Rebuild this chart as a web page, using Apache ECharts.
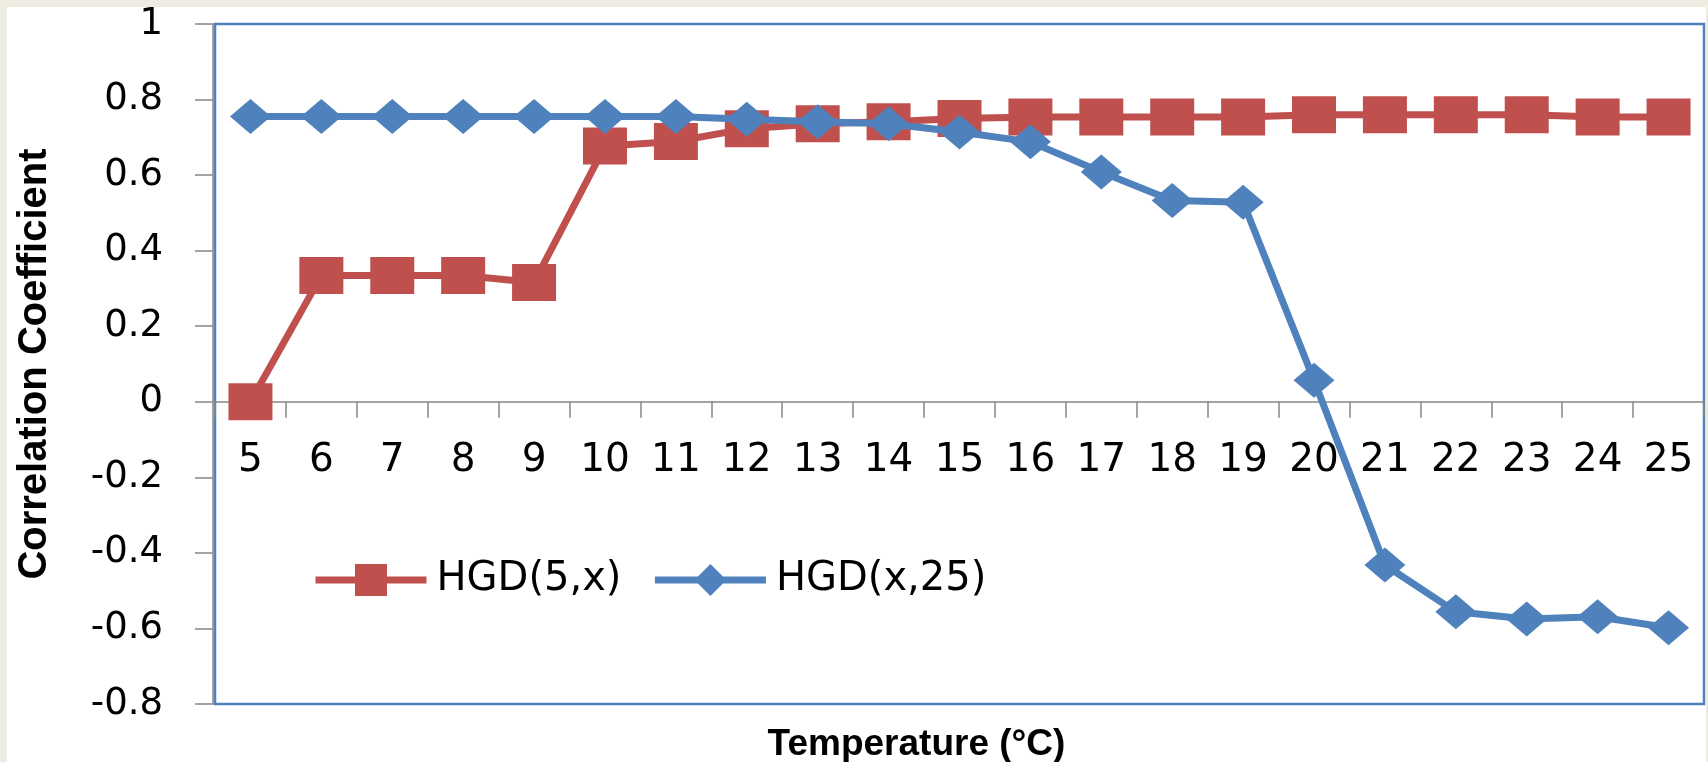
<!DOCTYPE html>
<html>
<head>
<meta charset="utf-8">
<script src="https://cdn.jsdelivr.net/npm/echarts@6/dist/echarts.min.js"></script>
<style>
  html, body { margin: 0; padding: 0; background: #EEEBE0; width: 1708px; height: 762px; overflow: hidden; }
  #chart { position: absolute; left: 7px; top: 7px; width: 1699px; height: 755px; background: #ffffff; }
</style>
</head>
<body>
<div id="chart"></div>
<script>
// Temperature steps (°C) along the category axis
const temperatures = ['5','6','7','8','9','10','11','12','13','14','15','16','17','18','19','20','21','22','23','24','25'];

// Correlation of the HGD profile at 5 °C with every other temperature
const hgd5x = [0.00, 0.334, 0.334, 0.334, 0.316, 0.677, 0.689, 0.723, 0.736, 0.741, 0.750,
               0.754, 0.754, 0.754, 0.754, 0.760, 0.760, 0.760, 0.760, 0.754, 0.754];

// Correlation of every temperature with the HGD profile at 25 °C
const hgdx25 = [0.755, 0.755, 0.755, 0.755, 0.755, 0.755, 0.755, 0.748, 0.741, 0.736, 0.714,
                0.688, 0.608, 0.533, 0.528, 0.057, -0.432, -0.556, -0.575, -0.569, -0.598];

const seriesNames = ['HGD(5,x)', 'HGD(x,25)'];
const yTicks = { min: -0.8, max: 1, step: 0.2 };

const RED = '#C0504D';
const BLUE = '#4F81BD';
const AXIS_GRAY = '#868686';

const chart = echarts.init(document.getElementById('chart'), null, { renderer: 'canvas' });

chart.setOption({
  animation: false,
  backgroundColor: '#ffffff',
  grid: {
    left: 208, right: 2, top: 17, bottom: 58,
    outerBoundsMode: 'none',
    containLabel: false,
    show: true,
    borderColor: BLUE,
    borderWidth: 2.5,
    backgroundColor: '#ffffff'
  },
  legend: {
    left: 305, top: 553,
    padding: 0,
    itemWidth: 111,
    itemHeight: 40,
    itemGap: 30,
    lineStyle: { width: 7 },
    textStyle: {
      fontFamily: 'DejaVu Sans', fontSize: 40, color: '#000',
      padding: [0, 0, 0, 5]
    },
    data: seriesNames
  },
  xAxis: {
    type: 'category',
    data: temperatures,
    boundaryGap: true,
    position: 'bottom',
    axisLine: { onZero: false, lineStyle: { color: AXIS_GRAY, width: 1.5 } },
    axisTick: { show: true, length: 16, inside: false, lineStyle: { color: AXIS_GRAY, width: 1.5 } },
    axisLabel: {
      interval: 0, margin: 40,
      fontFamily: 'DejaVu Sans', fontSize: 39, color: '#000'
    },
    splitLine: { show: false },
    name: 'Temperature (°C)',
    nameLocation: 'middle',
    nameGap: 325,
    nameMoveOverlap: false,
    nameTextStyle: {
      fontFamily: 'Liberation Sans', fontWeight: 'bold', fontSize: 37, color: '#000',
      padding: [0, 86, 0, 0]
    }
  },
  yAxis: {
    type: 'value',
    min: yTicks.min, max: yTicks.max, interval: yTicks.step,
    offset: 2,
    axisLine: { show: true, lineStyle: { color: AXIS_GRAY, width: 1.5 } },
    axisTick: { show: true, length: 18, inside: false, lineStyle: { color: AXIS_GRAY, width: 1.5 } },
    axisLabel: {
      margin: 50,
      fontFamily: 'DejaVu Sans', fontSize: 37, color: '#000',
      formatter: v => String(Math.round(v * 10) / 10)
    },
    splitLine: { show: false },
    name: 'Correlation Coefficient',
    nameLocation: 'middle',
    nameRotate: 90,
    nameGap: 158,
    nameMoveOverlap: false,
    nameTextStyle: {
      fontFamily: 'Liberation Sans', fontWeight: 'bold', fontSize: 40, color: '#000'
    }
  },
  series: [
    {
      name: seriesNames[0],
      type: 'line',
      data: hgd5x,
      symbol: 'rect',
      symbolSize: [44, 37],
      lineStyle: { color: RED, width: 7 },
      itemStyle: { color: RED },
      z: 2
    },
    {
      name: seriesNames[1],
      type: 'line',
      data: hgdx25,
      symbol: 'diamond',
      symbolSize: [41, 35],
      lineStyle: { color: BLUE, width: 7 },
      itemStyle: { color: BLUE },
      z: 3
    }
  ]
});

// Lift the category axis (line, ticks, labels, name) up to the value 0 line of the y scale
const zeroPx = chart.convertToPixel({ yAxisIndex: 0 }, 0);
const bottomPx = chart.convertToPixel({ yAxisIndex: 0 }, yTicks.min);
chart.setOption({ xAxis: { offset: zeroPx - bottomPx } });
</script>
</body>
</html>
